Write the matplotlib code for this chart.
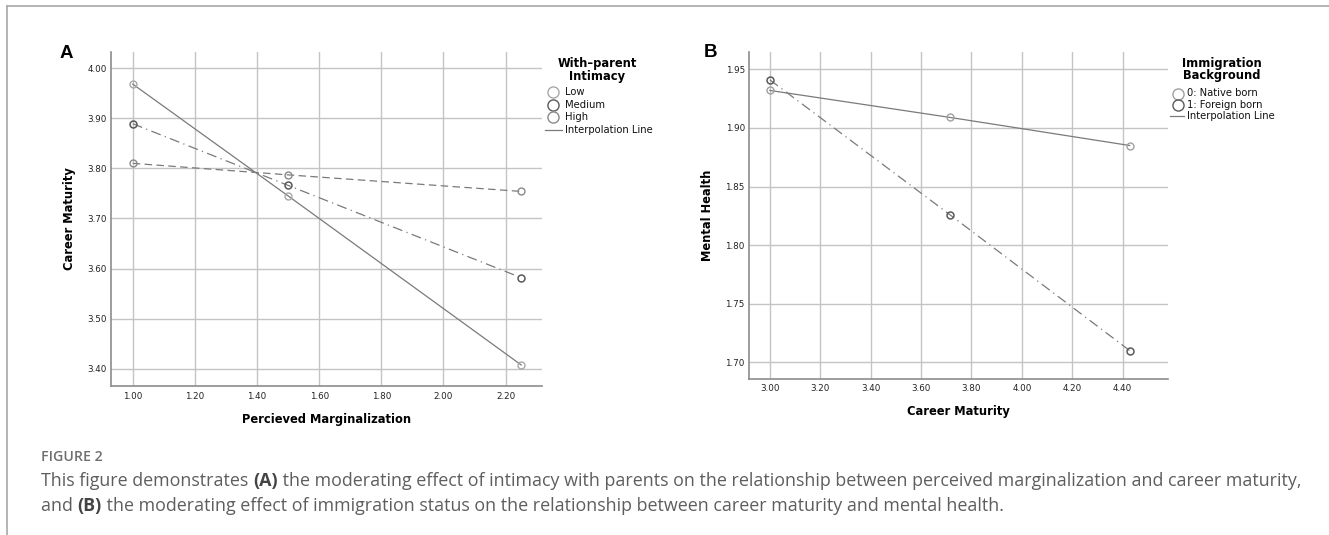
import matplotlib
matplotlib.use("Agg")
import matplotlib.pyplot as plt
from matplotlib.lines import Line2D

# ---------------- data ----------------
a_x = [1.00, 1.50, 2.25]
a_low = [3.968, 3.745, 3.408]
a_medium = [3.889, 3.766, 3.582]
a_high = [3.810, 3.787, 3.754]
a_xticks = [1.00, 1.20, 1.40, 1.60, 1.80, 2.00, 2.20]
a_yticks = [3.40, 3.50, 3.60, 3.70, 3.80, 3.90, 4.00]
a_legend_labels = ["Low", "Medium", "High", "Interpolation Line"]

b_x = [3.00, 3.714, 4.428]
b_native = [1.932, 1.909, 1.885]
b_foreign = [1.941, 1.826, 1.710]
b_xticks = [3.00, 3.20, 3.40, 3.60, 3.80, 4.00, 4.20, 4.40]
b_yticks = [1.70, 1.75, 1.80, 1.85, 1.90, 1.95]
b_legend_labels = ["0: Native born", "1: Foreign born", "Interpolation Line"]

W, H = 1329, 535
fig = plt.figure(figsize=(W / 100, H / 100), dpi=100)
fig.patch.set_facecolor("white")

FONT = "DejaVu Sans"
GRID = "#c4c4c4"
SPINE = "#8c8c8c"
LINE = "#7a7a7a"


def px_axes(l, r, t, b):
    return fig.add_axes([l / W, 1 - b / H, (r - l) / W, (b - t) / H])


def style(ax, xticks, yticks, xlim, ylim, xlabel, ylabel, fmt):
    ax.set_xlim(*xlim)
    ax.set_ylim(*ylim)
    ax.set_xticks(xticks)
    ax.set_yticks(yticks)
    ax.set_xticklabels([fmt.format(v) for v in xticks], fontsize=6.3, family=FONT, color="#222222")
    ax.set_yticklabels([fmt.format(v) for v in yticks], fontsize=6.3, family=FONT, color="#222222")
    ax.grid(True, color=GRID, linewidth=1.0)
    ax.set_axisbelow(True)
    for s in ["top", "right"]:
        ax.spines[s].set_visible(False)
    for s in ["left", "bottom"]:
        ax.spines[s].set_color(SPINE)
        ax.spines[s].set_linewidth(1.2)
    ax.tick_params(axis="x", length=0, pad=4.0)
    ax.tick_params(axis="y", length=0, pad=3.0)
    ax.set_xlabel(xlabel, fontsize=8.3, fontweight="bold", family=FONT, labelpad=8.6)
    ax.set_ylabel(ylabel, fontsize=8.3, fontweight="bold", family=FONT, labelpad=8.5)


dashdot = (8, 3.5, 1, 3.5)
dashed = (6, 3.5)

# ---------------- panel A ----------------
axA = px_axes(111, 542, 52, 386)
style(axA, a_xticks, a_yticks, (0.930, 2.317), (3.366, 4.032),
      "Percieved Marginalization", "Career Maturity", "{:.2f}")
axA.plot(a_x, a_low, color=LINE, lw=0.9, marker="o", ms=5, mfc="none", mec="#a8a8a8", mew=1.0)
axA.plot(a_x, a_medium, color=LINE, lw=0.9, dashes=dashdot, marker="o", ms=5, mfc="none", mec="#5a5a5a", mew=1.1)
axA.plot(a_x, a_high, color=LINE, lw=0.9, dashes=dashed, marker="o", ms=5, mfc="none", mec="#8a8a8a", mew=1.0)

# ---------------- panel B ----------------
axB = px_axes(749, 1168, 52, 378.7)
style(axB, b_xticks, b_yticks, (2.917, 4.580), (1.686, 1.9648),
      "Career Maturity", "Mental Health", "{:.2f}")
axB.plot(b_x, b_native, color=LINE, lw=0.9, marker="o", ms=5, mfc="none", mec="#a0a0a0", mew=1.0)
axB.plot(b_x, b_foreign, color=LINE, lw=0.9, dashes=dashdot, marker="o", ms=5, mfc="none", mec="#5a5a5a", mew=1.1)


# ---------------- legends (manual, pixel placed) ----------------
def legend(title_lines, title_cx, title_y0, labels, marker_colors, mx, tx, y0, dy):
    for i, t in enumerate(title_lines):
        fig.text(title_cx / W, 1 - (title_y0 + i * 12.3) / H, t, ha="center", va="center",
                 fontsize=8.3, fontweight="bold", family=FONT)
    for i, lab in enumerate(labels):
        y = y0 + i * dy
        fig.text(tx / W, 1 - y / H, lab, ha="left", va="center", fontsize=7.2, family=FONT, color="#111111")
        if i < len(marker_colors):
            fig.add_artist(Line2D([mx / W], [1 - y / H], marker="o", ms=8, mfc="none",
                                  mec=marker_colors[i], mew=1.0, transform=fig.transFigure))
        else:
            fig.add_artist(Line2D([(mx - 8) / W, (tx - 3) / W], [1 - y / H, 1 - y / H],
                                  color=LINE, lw=0.9, transform=fig.transFigure))


legend(["With\u2013parent", "Intimacy"], 597, 64, a_legend_labels,
       ["#a8a8a8", "#5a5a5a", "#8a8a8a"], 552.5, 565, 92, 12.6)
legend(["Immigration", "Background"], 1222, 63.3, b_legend_labels,
       ["#a0a0a0", "#5a5a5a"], 1178, 1187, 93.5, 11.4)

# panel letters
fig.text(66.5 / W, 1 - 53 / H, "A", ha="center", va="center", fontsize=13.5, fontweight="bold",
         family="Liberation Sans")
fig.text(710 / W, 1 - 52 / H, "B", ha="center", va="center", fontsize=13.5, fontweight="bold",
         family="Liberation Sans")

# frame lines
fig.add_artist(Line2D([7 / W, 1], [1 - 6 / H, 1 - 6 / H], color="#a8a8a8", lw=1.2, transform=fig.transFigure))
fig.add_artist(Line2D([7 / W, 7 / W], [0, 1 - 6 / H], color="#a8a8a8", lw=1.2, transform=fig.transFigure))

# caption
CAP = "Open Sans"
CAPSIZE = 12.85
fig.text(41 / W, 1 - 457 / H, "FIGURE 2", ha="left", va="center", fontsize=10.2, color="#6e6e6e",
         family=CAP, fontweight="semibold")


def rich_line(y, parts):
    x = 41
    r = fig.canvas.get_renderer()
    for txt, bold in parts:
        t = fig.text(x / W, 1 - y / H, txt, ha="left", va="center", fontsize=CAPSIZE,
                     color="#444444" if bold else "#5e5e5e", family=CAP,
                     fontweight="bold" if bold else "normal")
        bb = t.get_window_extent(renderer=r)
        x += bb.width


rich_line(481, [("This figure demonstrates ", False), ("(A)", True),
                (" the moderating effect of intimacy with parents on the relationship between perceived marginalization and career maturity,", False)])
rich_line(506, [("and ", False), ("(B)", True),
                (" the moderating effect of immigration status on the relationship between career maturity and mental health.", False)])

fig.savefig("out.png", dpi=100, facecolor="white")
